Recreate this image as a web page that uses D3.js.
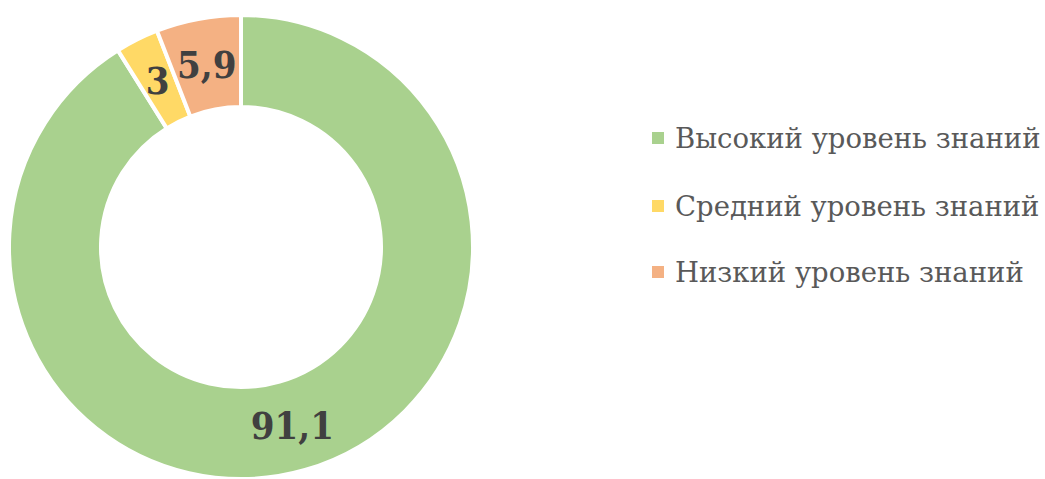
<!DOCTYPE html>
<html>
<head>
  <meta charset="utf-8">
  <title>Уровень знаний</title>
  <style>
    body { margin: 0; background: #fff; }
    #chart text { font-family: "DejaVu Serif Condensed", "DejaVu Serif", serif; }
    #chart text.leg { font-family: "DejaVu Serif", serif; }
  </style>
  <script src="https://d3js.org/d3.v7.min.js"></script>
</head>
<body>
  <div id="chart"></div>
  <script>
    const categories = ['Высокий уровень знаний', 'Средний уровень знаний', 'Низкий уровень знаний'];
    const values = [91.1, 3, 5.9];
    const labels = ['91,1', '3', '5,9'];
    const colors = ['#A9D18E', '#FFD966', '#F4B183'];

    const width = 1045, height = 479;
    const cx = 241, cy = 247;
    const outer = 232, inner = 140;

    const svg = d3.select('#chart')
      .append('svg')
        .attr('width', width)
        .attr('height', height);

    const pie = d3.pie().sort(null).value(d => d);
    const arc = d3.arc().innerRadius(inner).outerRadius(outer);
    const arcs = pie(values);

    const g = svg.append('g')
      .attr('transform', `translate(${cx}, ${cy})`);

    g.selectAll('path')
      .data(arcs)
      .enter()
        .append('path')
        .attr('d', arc)
        .attr('fill', (d, i) => colors[i])
        .attr('stroke', '#fff')
        .attr('stroke-width', 4)
        .attr('stroke-linejoin', 'miter');

    // data labels at arc centroids
    g.selectAll('text.lbl')
      .data(arcs)
      .enter()
        .append('text')
        .attr('class', 'lbl')
        .attr('x', d => arc.centroid(d)[0])
        .attr('y', d => arc.centroid(d)[1])
        .attr('text-anchor', 'middle')
        .attr('dominant-baseline', 'central')
        .attr('font-size', 38)
        .attr('font-weight', 'bold')
        .attr('fill', '#404040')
        .text((d, i) => labels[i]);

    // legend
    const legend = svg.append('g')
      .attr('transform', 'translate(652, 0)');

    const rowY = [138, 206, 272];

    const rows = legend.selectAll('g')
      .data(categories)
      .enter()
        .append('g')
        .attr('transform', (d, i) => `translate(0, ${rowY[i]})`);

    rows.append('rect')
      .attr('x', 0)
      .attr('y', -6)
      .attr('width', 12)
      .attr('height', 12)
      .attr('fill', (d, i) => colors[i]);

    rows.append('text')
      .attr('class', 'leg')
      .attr('x', 23)
      .attr('y', 0)
      .attr('dominant-baseline', 'central')
      .attr('font-size', 27.5)
      .attr('fill', '#595959')
      .text(d => d);
  </script>
</body>
</html>
